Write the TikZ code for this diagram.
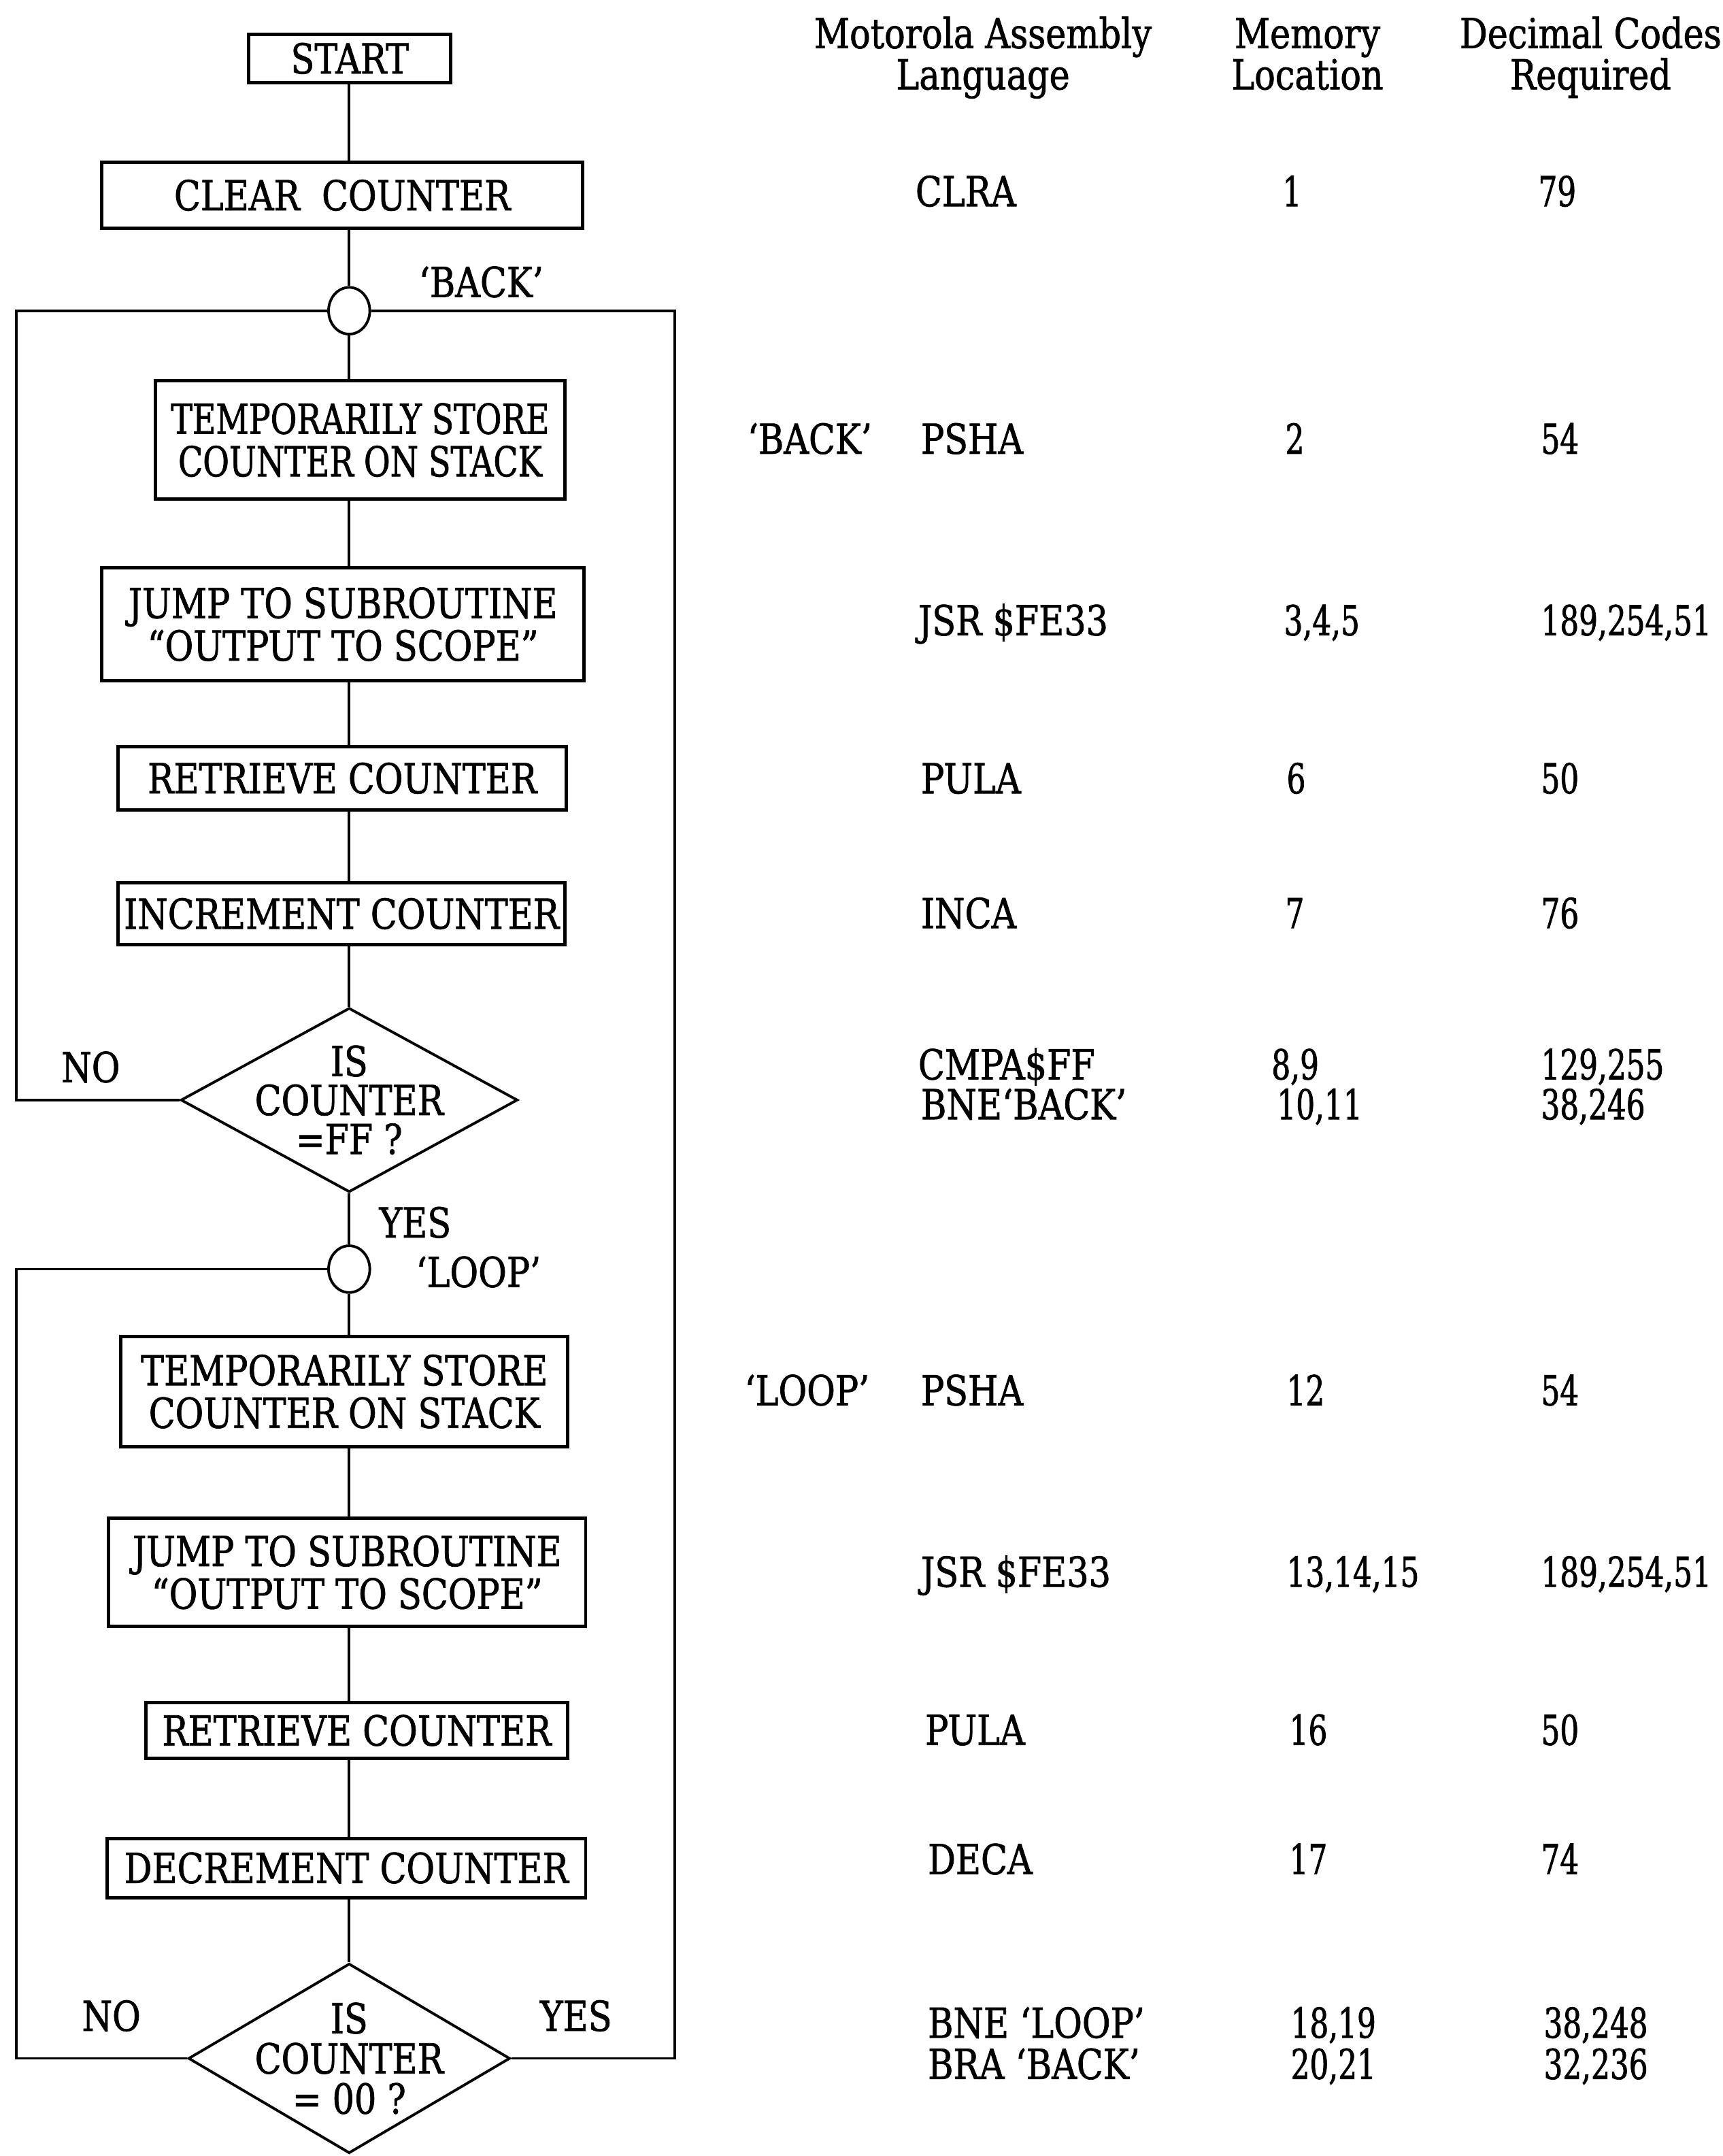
\documentclass[tikz,border=0pt]{standalone}
\usepackage{fontspec}
\setmainfont{DejaVu Serif Condensed}[FakeStretch=0.93,FakeBold=1.2]
\newfontfamily\numfont{DejaVu Serif Condensed}[FakeStretch=0.8,FakeBold=1.2]
\newfontfamily\narrowfont{DejaVu Serif Condensed}[FakeStretch=0.865,FakeBold=1.2]
\usetikzlibrary{shapes.geometric}
\newlength\uu \setlength\uu{0.020216cm}
\newcommand\ft{\fontsize{17.3pt}{17.8pt}\selectfont}
\begin{document}
\begin{tikzpicture}[x=0.020216cm,y=-0.020216cm, line width=1.1pt,
  box/.style={draw, line width=1.4pt, rectangle, inner sep=0pt, align=center, font=\ft},
  dia/.style={draw, diamond, inner sep=0pt, line width=1.1pt},
  conn/.style={draw, ellipse, inner sep=0pt, minimum width=30\uu, minimum height=34\uu, line width=1.1pt},
  tx/.style={font=\ft, inner sep=0pt, anchor=base west},
  nx/.style={font=\ft\numfont, inner sep=0pt, anchor=base west},
  lb/.style={font=\ft, inner sep=0pt, anchor=base},
  dtx/.style={font=\ft, inner sep=0pt, align=center}]
\fill[white] (0,0) rectangle (1253,1568);
\useasboundingbox (0,0) rectangle (1253,1568);
\coordinate (sp) at (254,0);
\coordinate (L) at (12,0);
\coordinate (R) at (491,0);
% flowchart nodes
\node[box, minimum width=147\uu, minimum height=35\uu] (start) at (254.5,42.5) {START};
\node[box, minimum width=350\uu, minimum height=48\uu] (clear) at (249,142) {CLEAR\ \ COUNTER};
\node[conn] (back) at (254,226) {};
\node[box, minimum width=298\uu, minimum height=86\uu, font=\ft\narrowfont] (store1) at (262,320) {TEMPORARILY STORE\\COUNTER ON STACK};
\node[box, minimum width=351\uu, minimum height=82\uu] (jump1) at (249.5,454) {JUMP TO SUBROUTINE\\“OUTPUT TO SCOPE”};
\node[box, minimum width=326\uu, minimum height=46\uu] (retr1) at (249,566) {RETRIEVE COUNTER};
\node[box, minimum width=325\uu, minimum height=45\uu] (inc) at (248.5,664.5) {INCREMENT COUNTER};
\node[dia, minimum width=245\uu, minimum height=134\uu] (dia1) at (254,800) {};
\node[dtx] at (dia1) {IS\\[-1.5pt]COUNTER\\[-1.5pt]=FF ?};
\node[conn] (loop) at (254,923) {};
\node[box, minimum width=325\uu, minimum height=80\uu] (store2) at (250.5,1012) {TEMPORARILY STORE\\COUNTER ON STACK};
\node[box, minimum width=347\uu, minimum height=79\uu] (jump2) at (252.5,1143.5) {JUMP TO SUBROUTINE\\“OUTPUT TO SCOPE”};
\node[box, minimum width=307\uu, minimum height=41\uu] (retr2) at (259.5,1258.5) {RETRIEVE COUNTER};
\node[box, minimum width=348\uu, minimum height=43\uu] (dec) at (252,1358.5) {DECREMENT COUNTER};
\node[dia, minimum width=234\uu, minimum height=138\uu] (dia2) at (254,1497) {};
\node[dtx] at (dia2) {IS\\[-1pt]COUNTER\\[-1pt]= 00 ?};
% spine connectors
\draw (start.south -| sp) -- (clear.north -| sp);
\draw (clear.south -| sp) -- (back.north);
\draw (back.south) -- (store1.north -| sp);
\draw (store1.south -| sp) -- (jump1.north -| sp);
\draw (jump1.south -| sp) -- (retr1.north -| sp);
\draw (retr1.south -| sp) -- (inc.north -| sp);
\draw (inc.south -| sp) -- (dia1.north);
\draw (dia1.south) -- (loop.north);
\draw (loop.south) -- (store2.north -| sp);
\draw (store2.south -| sp) -- (jump2.north -| sp);
\draw (jump2.south -| sp) -- (retr2.north -| sp);
\draw (retr2.south -| sp) -- (dec.north -| sp);
\draw (dec.south -| sp) -- (dia2.north);
% loops
\draw (dia1.west) -- (dia1.west -| L) |- (back.west);
\draw (back.east) -| (R |- dia2.east) -- (dia2.east);
\draw (loop.west) -| (L |- dia2.west) -- (dia2.west);
% flowchart labels
\node[lb] (lback) at (350,216) {‘BACK’};
\node[lb] (lno1) at (66,787) {NO};
\node[lb] (lyes1) at (302,900) {YES};
\node[lb] (lloop) at (348,936) {‘LOOP’};
\node[lb] (lno2) at (81,1477) {NO};
\node[lb] (lyes2) at (419,1477) {YES};
% headers
\node[lb] (h1a) at (715,35) {Motorola Assembly};
\node[lb] (h1b) at (715,65) {Language};
\node[lb] (h2a) at (951,35) {Memory};
\node[lb] (h2b) at (951,65) {Location};
\node[lb] (h3a) at (1157,35) {Decimal Codes};
\node[lb] (h3b) at (1157,65) {Required};
% table rows
\node[tx] (m1) at (665,150) {CLRA};
\node[nx] (a1) at (932,150) {1};
\node[nx] (d1) at (1118,150) {79};
\node[lb] (bk) at (589,330) {‘BACK’};
\node[tx] (m2) at (669,330) {PSHA};
\node[nx] (a2) at (934,330) {2};
\node[nx] (d2) at (1120,330) {54};
\node[tx] (m3) at (667,462) {JSR \$FE33};
\node[nx] (a3) at (933,462) {3,4,5};
\node[nx] (d3) at (1120,462) {189,254,51};
\node[tx] (m4) at (669,577) {PULA};
\node[nx] (a4) at (935,577) {6};
\node[nx] (d4) at (1120,577) {50};
\node[tx] (m5) at (669,675) {INCA};
\node[nx] (a5) at (934,675) {7};
\node[nx] (d5) at (1120,675) {76};
\node[tx] (m6) at (667,785) {CMPA\$FF};
\node[nx] (a6) at (924,785) {8,9};
\node[nx] (d6) at (1120,785) {129,255};
\node[tx] (m7) at (669,814) {BNE‘BACK’};
\node[nx] (a7) at (928,814) {10,11};
\node[nx] (d7) at (1120,814) {38,246};
\node[lb] (lp) at (587,1022) {‘LOOP’};
\node[tx] (m8) at (669,1022) {PSHA};
\node[nx] (a8) at (935,1022) {12};
\node[nx] (d8) at (1120,1022) {54};
\node[tx] (m9) at (669,1154) {JSR \$FE33};
\node[nx] (a9) at (935,1154) {13,14,15};
\node[nx] (d9) at (1120,1154) {189,254,51};
\node[tx] (m10) at (672,1269) {PULA};
\node[nx] (a10) at (937,1269) {16};
\node[nx] (d10) at (1120,1269) {50};
\node[tx] (m11) at (674,1363) {DECA};
\node[nx] (a11) at (937,1363) {17};
\node[nx] (d11) at (1120,1363) {74};
\node[tx] (m12) at (674,1482) {BNE ‘LOOP’};
\node[nx] (a12) at (938,1482) {18,19};
\node[nx] (d12) at (1122,1482) {38,248};
\node[tx] (m13) at (674,1512) {BRA ‘BACK’};
\node[nx] (a13) at (938,1512) {20,21};
\node[nx] (d13) at (1122,1512) {32,236};
\end{tikzpicture}
\end{document}
